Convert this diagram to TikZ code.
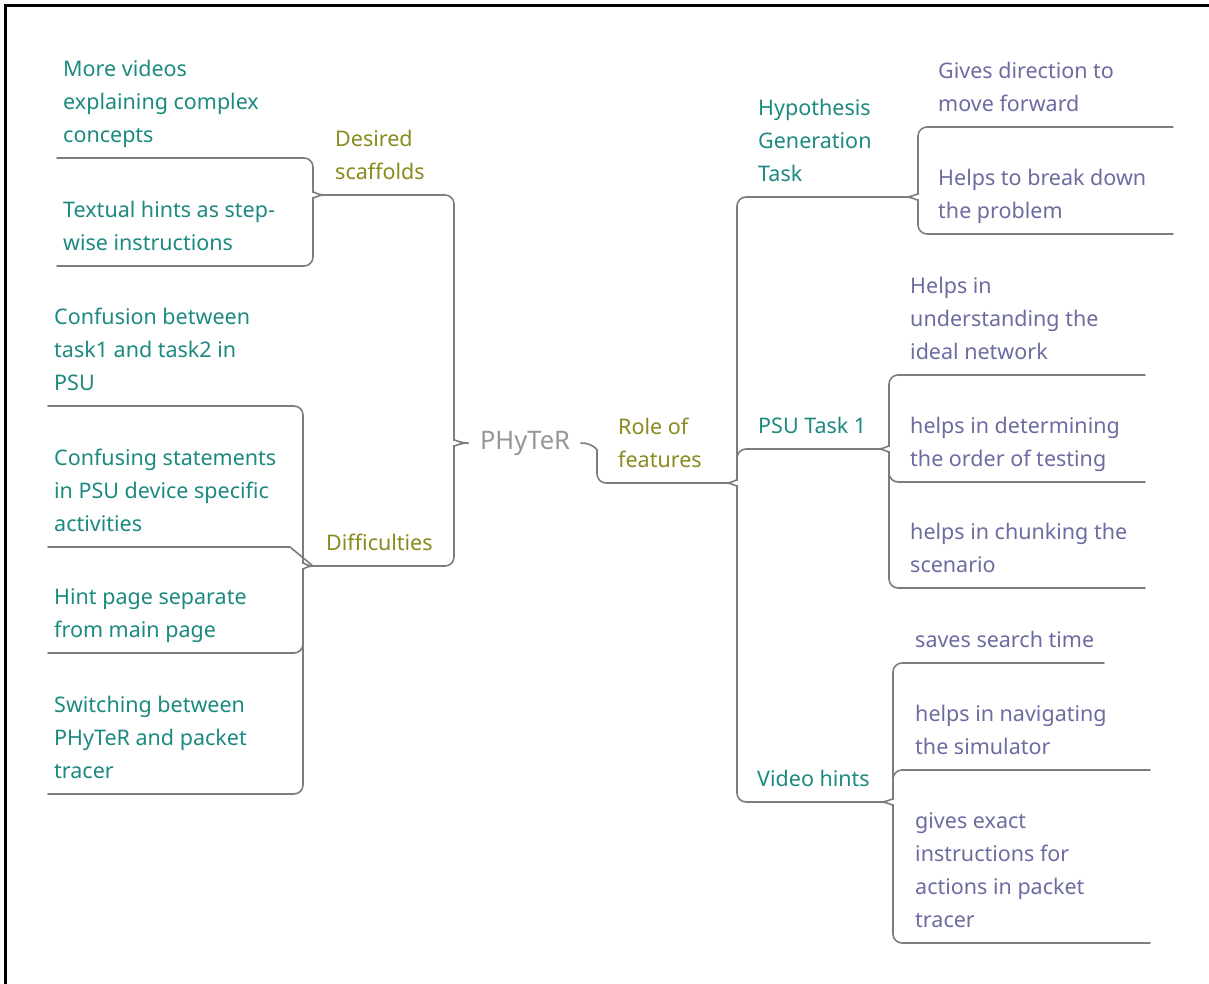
\documentclass[tikz,border=0pt]{standalone}
\usepackage{fontspec}
\setmainfont{Noto Sans}
\usetikzlibrary{calc}

\definecolor{linegray}{RGB}{125,125,125}
\definecolor{tealtext}{RGB}{28,138,128}
\definecolor{olivetext}{RGB}{138,138,30}
\definecolor{slatetext}{RGB}{108,108,160}
\definecolor{roottext}{RGB}{150,150,150}

\tikzset{
  conn/.style={draw=linegray, line width=1.6pt, line cap=round, rounded corners=9pt},
  txt/.style={anchor=south west, inner sep=0pt, align=left,
    font=\fontsize{21.5}{33}\selectfont,
    execute at begin node=\strut, execute at end node=\strut},
  branch/.style={txt, text=tealtext},
  topic/.style={txt, text=olivetext},
  detail/.style={txt, text=slatetext},
}

\begin{document}
\begin{tikzpicture}[x=1pt, y=-1pt]
\useasboundingbox (0,0) rectangle (1209,984);
\fill[white] (0,0) rectangle (1209,984);
\draw[black, line width=2.5pt] (5.5,984) -- (5.5,5.5) -- (1209,5.5);

% ---- texts ----
\node[font=\fontsize{25.5}{30}\selectfont, text=roottext, inner sep=0pt] (root) at (525,443) {PHyTeR};

\node[topic] (ds) at (335,190) {Desired\\scaffolds};
\node[topic] (df) at (326,561) {Difficulties};
\node[topic] (rf) at (618,478) {Role of\\features};

\node[branch] (mv) at (63,153) {More videos\\explaining complex\\concepts};
\node[branch] (th) at (63,261) {Textual hints as step-\\wise instructions};
\node[branch] (cb) at (54,401) {Confusion between\\task1 and task2 in\\PSU};
\node[branch] (cs) at (54,542) {Confusing statements\\in PSU device specific\\activities};
\node[branch] (hp) at (54,648) {Hint page separate\\from main page};
\node[branch] (sw) at (54,789) {Switching between\\PHyTeR and packet\\tracer};

\node[branch] (hg) at (758,192) {Hypothesis\\Generation\\Task};
\node[branch] (psu) at (758,444) {PSU Task 1};
\node[branch] (vh) at (757,797) {Video hints};

\node[detail] (gd) at (938,122) {Gives direction to\\move forward};
\node[detail] (hb) at (938,229) {Helps to break down\\the problem};
\node[detail] (hu) at (910,370) {Helps in\\understanding the\\ideal network};
\node[detail] (hd) at (910,477) {helps in determining\\the order of testing};
\node[detail] (hc) at (910,583) {helps in chunking the\\scenario};
\node[detail] (ss) at (915,658) {saves search time};
\node[detail] (hn) at (915,765) {helps in navigating\\the simulator};
\node[detail] (ge) at (915,938) {gives exact\\instructions for\\actions in packet\\tracer};

% ---- underline ends and brace tips ----
\coordinate (root-w) at (468,443);
\coordinate (root-e) at (581,443);
\coordinate (ds-l) at (325,195);
\coordinate (df-l) at (313,566);
\coordinate (rf-r) at (725,483);
\coordinate (hg-r) at (905,197);
\coordinate (psu-r) at (877,449);
\coordinate (vh-r) at (880,802);
\coordinate (mv-l) at (57,158);
\coordinate (th-l) at (57,266);
\coordinate (cb-l) at (48,406);
\coordinate (cs-l) at (48,547);
\coordinate (hp-l) at (48,653);
\coordinate (sw-l) at (48,794);
\coordinate (gd-r) at (1173,127);
\coordinate (hb-r) at (1173,234);
\coordinate (hu-r) at (1145,375);
\coordinate (hd-r) at (1145,482);
\coordinate (hc-r) at (1145,588);
\coordinate (ss-r) at (1104,663);
\coordinate (hn-r) at (1150,770);
\coordinate (ge-r) at (1150,943);

% ---- root braces ----
\draw[conn] (root-w) .. controls +(-9,0) and +(0,8) .. (454,431) |- (ds-l);
\draw[conn] (root-w) .. controls +(-9,0) and +(0,-8) .. (454,455) |- (df-l);
\draw[conn] (root-e) .. controls +(10,0) and +(0,-10) .. (597,459) |- (rf-r);

% ---- Desired scaffolds ----
\draw[conn] (ds-l) .. controls +(-8,0) and +(0,8) .. (313,183) |- (mv-l);
\draw[conn] (ds-l) .. controls +(-8,0) and +(0,-8) .. (313,207) |- (th-l);

% ---- Difficulties ----
\draw[conn] (df-l) .. controls +(-7,0) and +(0,8) .. (303,554) |- (cb-l);
\draw[conn, rounded corners=0pt] (cs-l) -- (290,547) -- (df-l);
\draw[conn] (df-l) .. controls +(-7,0) and +(0,-8) .. (303,578) |- (hp-l);
\draw[conn] (303,600) |- (sw-l);

% ---- Role of features ----
\draw[conn] (rf-r) .. controls +(8,0) and +(0,8) .. (737,471) |- (hg-r);
\draw[conn] (rf-r) .. controls +(8,0) and +(0,-8) .. (737,495) |- (vh-r);
\draw[conn] (737,475) |- (psu-r);

% ---- Hypothesis Generation Task ----
\draw[conn] (hg-r) .. controls +(8,0) and +(0,8) .. (918,185) |- (gd-r);
\draw[conn] (hg-r) .. controls +(8,0) and +(0,-8) .. (918,209) |- (hb-r);

% ---- PSU Task 1 ----
\draw[conn] (psu-r) .. controls +(8,0) and +(0,8) .. (889,437) |- (hu-r);
\draw[conn] (psu-r) .. controls +(8,0) and +(0,-8) .. (889,461) |- (hd-r);
\draw[conn] (889,470) |- (hc-r);

% ---- Video hints ----
\draw[conn] (vh-r) .. controls +(8,0) and +(0,8) .. (893,790) |- (ss-r);
\draw[conn] (893,792) |- (hn-r);
\draw[conn] (vh-r) .. controls +(8,0) and +(0,-8) .. (893,814) |- (ge-r);
\end{tikzpicture}
\end{document}
